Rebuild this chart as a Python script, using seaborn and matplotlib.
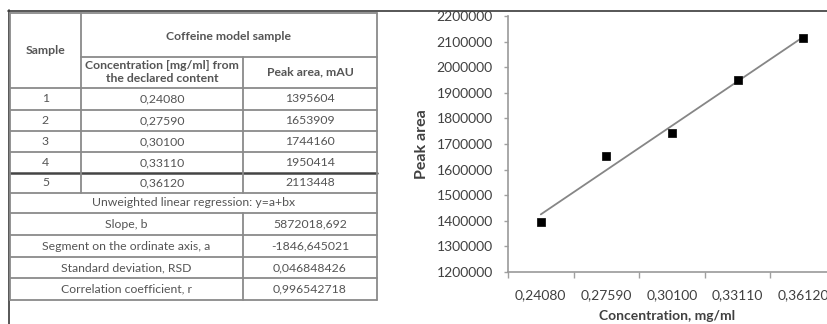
import numpy as np
import pandas as pd
import matplotlib
matplotlib.use("Agg")
import matplotlib.pyplot as plt
from matplotlib.lines import Line2D
import seaborn as sns

# Calibration data for the caffeine model sample
samples = [1, 2, 3, 4, 5]
concentration_labels = ["0,24080", "0,27590", "0,30100", "0,33110", "0,36120"]
peak_area = [1395604, 1653909, 1744160, 1950414, 2113448]

# Regression summary shown in the table
stat_names = ["Slope, b", "Segment on the ordinate axis, a",
              "Standard deviation, RSD", "Correlation coefficient, r"]
stat_values = ["5872018,692", "-1846,645021", "0,046848426", "0,996542718"]

y_ticks = [1200000, 1300000, 1400000, 1500000, 1600000, 1700000,
           1800000, 1900000, 2000000, 2100000, 2200000]

sns.set_theme(style="white")
plt.rcParams["font.family"] = ["Lato", "DejaVu Sans"]

W, H = 828, 324
fig = plt.figure(figsize=(W / 100, H / 100), dpi=100)
fig.patch.set_facecolor("white")


def fx(px):
    return px / W


def fy(py):
    return 1 - py / H


def hline(y, x0, x1, color="#8a8a8a", lw=1.3):
    fig.add_artist(Line2D([fx(x0), fx(x1)], [fy(y), fy(y)], color=color, lw=lw))


def vline(x, y0, y1, color="#8a8a8a", lw=1.3):
    fig.add_artist(Line2D([fx(x), fx(x)], [fy(y0), fy(y1)], color=color, lw=lw))


def ctext(x, y, s, bold=False, size=8.8):
    fig.text(fx(x), fy(y), s, ha="center", va="center", fontsize=size,
             color="#555555", fontweight="bold" if bold else "normal",
             linespacing=1.2)


# Page frame
hline(10.5, 8, W, color="#3a3a3a", lw=1.2)
vline(8.5, 10, H, color="#3a3a3a", lw=1.2)

# Table grid
L, C1, C2, R = 10, 81, 243, 377
row_lines = [88, 110, 131, 152, 173, 193, 213, 235, 257, 278, 300]
hline(13, L, R)
hline(57, C1, R)
for y in row_lines:
    hline(y, L, R, color="#444444" if y == 173 else "#8a8a8a",
          lw=1.8 if y == 173 else 1.3)
vline(L, 13, 300)
vline(R, 13, 300)
vline(C1, 13, 193)
vline(C2, 57, 193)
vline(C2, 213, 300)

# Table text
ctext((L + C1) / 2, 51, "Sample", bold=True)
ctext((C1 + R) / 2, 36, "Coffeine model sample", bold=True)
ctext((C1 + C2) / 2, 72, "Concentration [mg/ml] from\nthe declared content", bold=True)
ctext((C2 + R) / 2, 72, "Peak area, mAU", bold=True)
for i, (s, c, p) in enumerate(zip(samples, concentration_labels, peak_area)):
    yc = (row_lines[i] + row_lines[i + 1]) / 2
    ctext((L + C1) / 2, yc, str(s))
    ctext((C1 + C2) / 2, yc, c)
    ctext((C2 + R) / 2, yc, str(p))
ctext((L + R) / 2, (193 + 213) / 2, "Unweighted linear regression: y=a+bx")
for i, (n, v) in enumerate(zip(stat_names, stat_values)):
    yc = (row_lines[6 + i] + row_lines[7 + i]) / 2
    ctext((L + C2) / 2, yc, n)
    ctext((C2 + R) / 2, yc, v)

# Calibration chart (category axis, extends past the right edge)
ax_l, ax_r, ax_t, ax_b = 508, 836, 16, 272
ax = fig.add_axes([fx(ax_l), fy(ax_b), fx(ax_r - ax_l), (ax_b - ax_t) / H])
df = pd.DataFrame({"sample": samples, "peak_area": peak_area})

sns.regplot(data=df, x="sample", y="peak_area", ax=ax, scatter=False, ci=None,
            truncate=True, line_kws={"color": "#868686", "lw": 1.3})
sns.scatterplot(data=df, x="sample", y="peak_area", ax=ax, marker="s", s=26,
                color="black", edgecolor="black", linewidth=0.5, zorder=3)

ax.set_xlim(0.5, 5.5)
ax.set_ylim(1200000, 2200000)
ax.set_yticks(y_ticks)
ax.set_yticklabels([str(v) for v in y_ticks])
ax.set_xticks(samples)
ax.set_xticklabels(concentration_labels)
ax.set_xticks(np.arange(0.5, 6.0, 1.0), minor=True)
ax.tick_params(axis="x", which="major", length=0, pad=12, labelsize=10,
               labelcolor="#404040")
ax.tick_params(axis="x", which="minor", length=4, width=1, color="#a0a0a0",
               direction="out", bottom=True)
ax.tick_params(axis="y", which="major", length=3, width=1, color="#a0a0a0",
               direction="out", left=True, pad=8, labelsize=10,
               labelcolor="#404040")
for side in ["top", "right"]:
    ax.spines[side].set_visible(False)
for side in ["left", "bottom"]:
    ax.spines[side].set_color("#9a9a9a")
    ax.spines[side].set_linewidth(1.2)
ax.set_facecolor("white")
ax.set_xlabel("")
ax.set_ylabel("")

fig.text(fx(422), fy(144), "Peak area", rotation=90, ha="center", va="center",
         fontsize=11.5, fontweight="bold", color="#404040")
fig.text(fx(667), fy(316), "Concentration, mg/ml", ha="center", va="center",
         fontsize=10, fontweight="bold", color="#404040")

fig.savefig("out.png", dpi=100, facecolor="white")
